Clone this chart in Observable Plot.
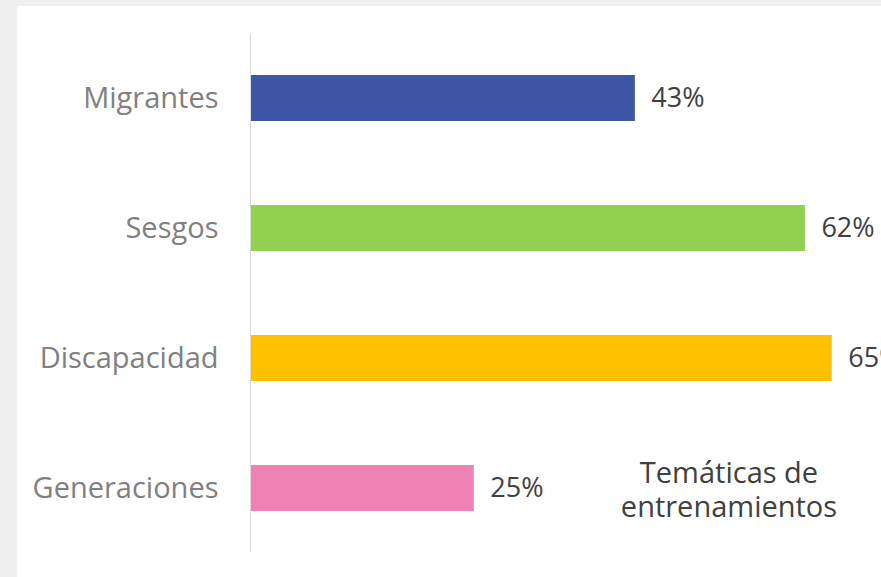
<!DOCTYPE html>
<html>
<head>
<meta charset="utf-8">
<script src="https://cdn.jsdelivr.net/npm/d3@7"></script>
<script src="https://cdn.jsdelivr.net/npm/@observablehq/plot@0.6"></script>
<style>
  html, body { margin: 0; padding: 0; background: #efefef; overflow: hidden; }
  #panel { position: absolute; left: 17px; top: 6px; width: 864px; height: 571px; background: #ffffff; }
  #title { position: absolute; left: 595px; top: 449px; width: 234px; text-align: center;
           font-family: "Open Sans", sans-serif; font-size: 29px; line-height: 34px; color: #404040; }
</style>
</head>
<body>
<div id="panel"><div id="chart"></div><div id="title">Temáticas de<br>entrenamientos</div></div>
<script>
const categories = ["Migrantes", "Sesgos", "Discapacidad", "Generaciones"];
const values = [43, 62, 65, 25];
const colors = ["#3f55a6", "#92d050", "#ffc000", "#ef82b4"];

const data = categories.map((c, i) => ({category: c, value: values[i], color: colors[i]}));

const chart = Plot.plot({
  width: 864,
  height: 571,
  marginLeft: 233,
  marginRight: 4,
  marginTop: 28,
  marginBottom: 25,
  style: {fontFamily: "Open Sans, sans-serif", background: "transparent", overflow: "visible"},
  x: {domain: [0, 70], range: [233, 859.5], axis: null},
  y: {domain: categories, range: [27, 547], paddingInner: 0.646, paddingOuter: 0.323, label: null},
  marks: [
    Plot.barX(data, {x: "value", y: "category", fill: "color"}),
    Plot.ruleX([0], {stroke: "#d9d9d9", strokeWidth: 1}),
    Plot.axisY({tickSize: 0, tickPadding: 32, fontSize: 29, color: "#808080", label: null}),
    Plot.text(data, {x: "value", y: "category", text: d => `${d.value}%`, textAnchor: "start", dx: 16, fontSize: 27, fill: "#404040"})
  ]
});
document.getElementById("chart").appendChild(chart);
</script>
</body>
</html>
